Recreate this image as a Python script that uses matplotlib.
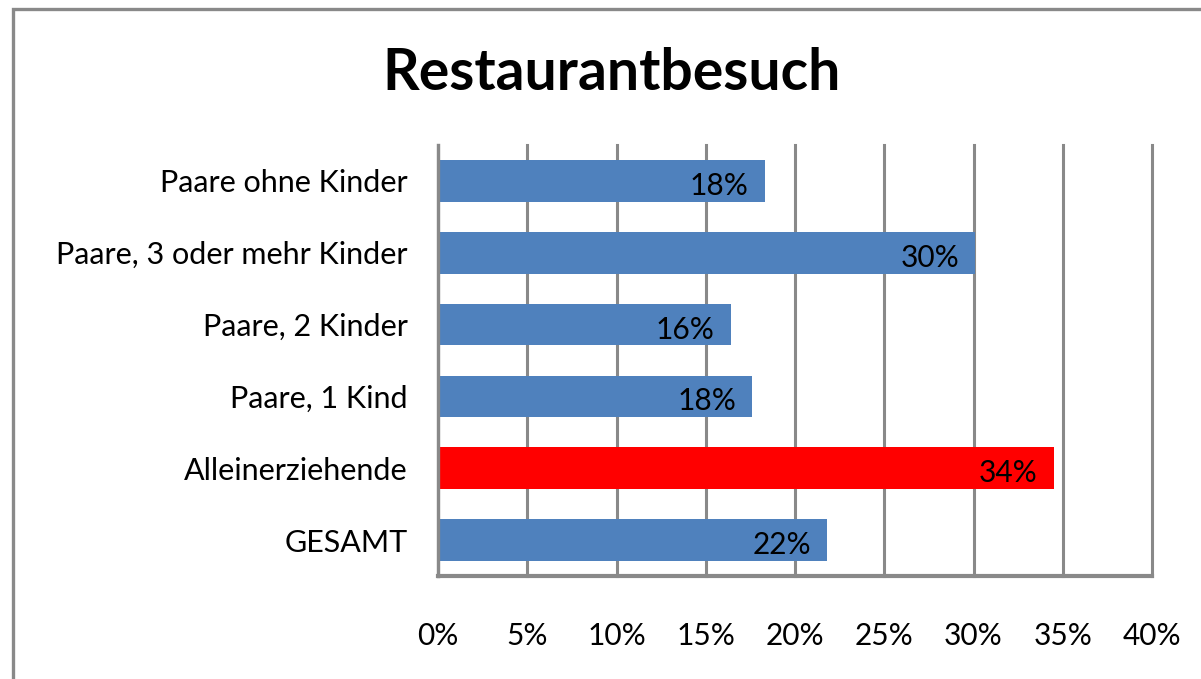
import matplotlib
matplotlib.use("Agg")
import matplotlib.pyplot as plt
from matplotlib.patches import Rectangle

plt.rcParams['font.family'] = ['Lato', 'DejaVu Sans']

# data, top to bottom as in the chart
categories = ["Paare ohne Kinder", "Paare, 3 oder mehr Kinder", "Paare, 2 Kinder",
              "Paare, 1 Kind", "Alleinerziehende", "GESAMT"]
values = [18.3, 30.1, 16.4, 17.6, 34.5, 21.8]
labels = ["18%", "30%", "16%", "18%", "34%", "22%"]
colors = ["#4F81BD", "#4F81BD", "#4F81BD", "#4F81BD", "#FF0000", "#4F81BD"]
xticks = [0, 5, 10, 15, 20, 25, 30, 35, 40]

grey = "#898989"

fig = plt.figure(figsize=(12.01, 6.79), dpi=100)
ax = fig.add_axes([438 / 1201, 1 - 576 / 679, (1152 - 438) / 1201, (576 - 145) / 679])

# outer chart frame (only top and left visible)
fig.patches.append(Rectangle((13 / 1201, -0.1), 1.2, 1 - 9 / 679 + 0.1,
                             transform=fig.transFigure, fill=False,
                             edgecolor=grey, linewidth=2.4, zorder=0))

y = list(range(len(categories)))[::-1]
ax.barh(y, values, height=0.58, color=colors, zorder=2)

for yi, v, lab in zip(y, values, labels):
    ax.text(v - 0.9, yi - 0.07, lab, ha='right', va='center', fontsize=21.5, zorder=3)

ax.set_xlim(0, 40)
ax.set_ylim(-0.5, len(categories) - 0.5)
ax.set_xticks(xticks)
ax.set_xticklabels([f"{t}%" for t in xticks], fontsize=21.5)
ax.set_yticks(y)
ax.set_yticklabels(categories, fontsize=22)
ax.tick_params(axis='x', length=0, pad=33)
ax.tick_params(axis='y', length=0, pad=22)

ax.grid(axis='x', color=grey, linewidth=2.2, zorder=1)
for line in ax.get_xgridlines():
    line.set_clip_on(False)
ax.set_axisbelow(True)
for s in ['top', 'right']:
    ax.spines[s].set_visible(False)
ax.spines['left'].set_color(grey)
ax.spines['left'].set_linewidth(2.4)
ax.spines['bottom'].set_color(grey)
ax.spines['bottom'].set_linewidth(3)

fig.text(612 / 1201, 1 - 73 / 679, "Restaurantbesuch", ha='center', va='center',
         fontsize=41, fontweight='bold')

fig.savefig("out.png", dpi=100)
